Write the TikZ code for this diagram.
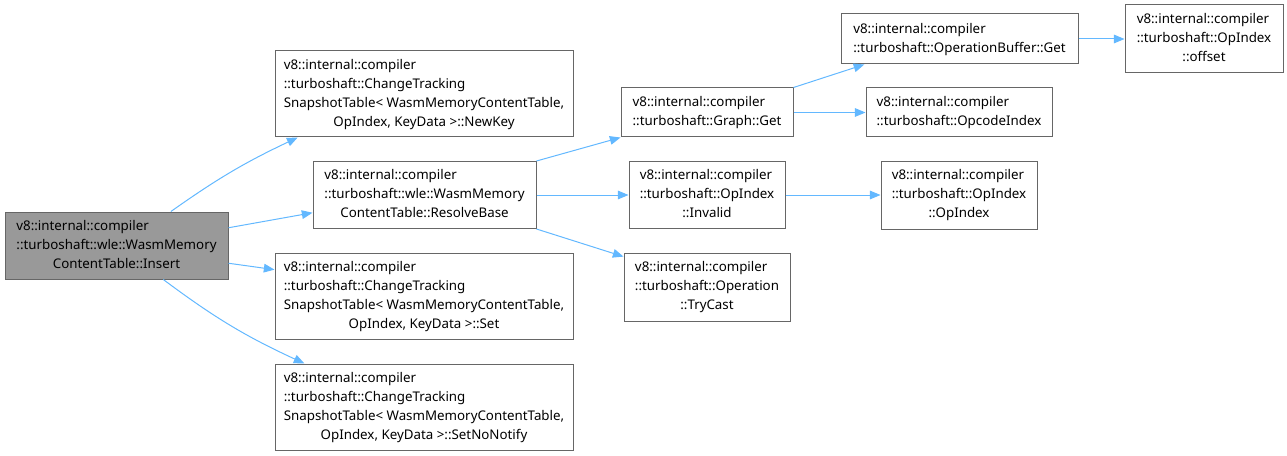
\documentclass[tikz,border=0pt]{standalone}
\usepackage{fontspec}
\setmainfont{Noto Sans}
\usetikzlibrary{arrows.meta}
\definecolor{edgeblue}{HTML}{63B8FF}
\definecolor{boxgray}{HTML}{666666}
\definecolor{fillgray}{HTML}{999999}
\newcommand\dxl[2]{\begin{tabular}{@{}l@{}}#1\\\multicolumn{1}{@{}c@{}}{#2}\end{tabular}}
\tikzset{
  x=0.75pt, y=-0.75pt,
  fbox/.style={draw=boxgray, line width=0.75pt, fill=white, inner sep=0pt,
    font=\fontsize{10pt}{14.2pt}\selectfont, text=black},
  sz/.style 2 args={minimum width=#1*0.75pt, minimum height=#2*0.75pt},
  conn/.style={draw=edgeblue, line width=0.75pt,
    -{Triangle[length=8pt,width=6.5pt]}},
}
\begin{document}
\begin{tikzpicture}
\useasboundingbox (0,0) rectangle (1287,456);
\node[fbox, fill=fillgray, sz={223}{67}] (ins) at (116.5,245.5)
  {\dxl{v8::internal::compiler\\::turboshaft::wle::WasmMemory}{ContentTable::Insert}};
\node[fbox, sz={298}{86}] (nk) at (424,94)
  {\dxl{v8::internal::compiler\\::turboshaft::ChangeTracking\\SnapshotTable< WasmMemoryContentTable,}{OpIndex, KeyData >::NewKey}};
\node[fbox, sz={223}{67}] (rb) at (424.5,195)
  {\dxl{v8::internal::compiler\\::turboshaft::wle::WasmMemory}{ContentTable::ResolveBase}};
\node[fbox, sz={298}{86}] (set) at (424,296)
  {\dxl{v8::internal::compiler\\::turboshaft::ChangeTracking\\SnapshotTable< WasmMemoryContentTable,}{OpIndex, KeyData >::Set}};
\node[fbox, sz={298}{86}] (snn) at (424,407)
  {\dxl{v8::internal::compiler\\::turboshaft::ChangeTracking\\SnapshotTable< WasmMemoryContentTable,}{OpIndex, KeyData >::SetNoNotify}};
\node[fbox, sz={172}{49}] (gget) at (707,112.5)
  {\dxl{v8::internal::compiler}{::turboshaft::Graph::Get}};
\node[fbox, sz={156}{67}] (inv) at (707,195)
  {\dxl{v8::internal::compiler\\::turboshaft::OpIndex}{::Invalid}};
\node[fbox, sz={166}{68}] (tc) at (707,287)
  {\dxl{v8::internal::compiler\\::turboshaft::Operation}{::TryCast}};
\node[fbox, sz={237}{50}] (obg) at (959.5,39)
  {\dxl{v8::internal::compiler}{::turboshaft::OperationBuffer::Get}};
\node[fbox, sz={186}{49}] (oci) at (959,112.5)
  {\dxl{v8::internal::compiler}{::turboshaft::OpcodeIndex}};
\node[fbox, sz={156}{68}] (opi) at (959,195)
  {\dxl{v8::internal::compiler\\::turboshaft::OpIndex}{::OpIndex}};
\node[fbox, sz={158}{68}] (off) at (1204,39)
  {\dxl{v8::internal::compiler\\::turboshaft::OpIndex}{::offset}};

\draw[conn] (ins.32.5) to[bend left=5] (nk.199);
\draw[conn] (ins.9.4) -- (rb.189);
\draw[conn] (ins.-9.8) -- (set.170.5);
\draw[conn] (ins.-36.4) to[bend right=6] (snn.160.5);
\draw[conn] (rb.north east) -- (gget.south west);
\draw[conn] (rb.east) -- (inv.west);
\draw[conn] (rb.south east) -- (tc.160);
\draw[conn] (gget.north east) -- (obg.195);
\draw[conn] (gget.east) -- (oci.west);
\draw[conn] (inv.east) -- (opi.west);
\draw[conn] (obg.east) -- (off.west);
\end{tikzpicture}
\end{document}
